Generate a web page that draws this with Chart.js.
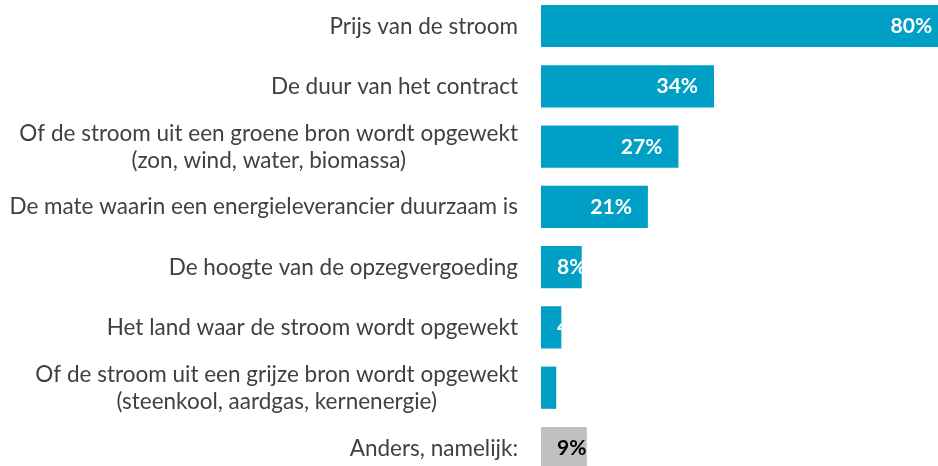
<!DOCTYPE html>
<html>
<head>
<meta charset="utf-8">
<script src="https://cdn.jsdelivr.net/npm/chart.js@4/dist/chart.umd.min.js"></script>
<style>
  html, body { margin: 0; padding: 0; background: #fff; }
  #wrap { width: 938px; height: 466px; position: relative; }
</style>
</head>
<body>
<div id="wrap"><canvas id="chart"></canvas></div>
<script>
// Categories (multi-line where the original wraps)
const categories = [
    ['Prijs van de stroom'],
    ['De duur van het contract'],
    ['Of de stroom uit een groene bron wordt opgewekt', '(zon, wind, water, biomassa)'],
    ['De mate waarin een energieleverancier duurzaam is'],
    ['De hoogte van de opzegvergoeding'],
    ['Het land waar de stroom wordt opgewekt'],
    ['Of de stroom uit een grijze bron wordt opgewekt', '(steenkool, aardgas, kernenergie)'],
    ['Anders, namelijk:']
];
// Share of respondents (%)
const percentages = [80, 34, 27, 21, 8, 4, 3, 9];

const BLUE = '#00a0c6';
const GREY = '#c0c0c0';
const LABEL_FONT = '22.5px Lato, "Open Sans", sans-serif';
const VALUE_FONT = 'bold 21px Lato, "Open Sans", sans-serif';
const LABEL_RIGHT = 518;
const LINE_HEIGHT = 27;

const isOther = i => i === categories.length - 1;

// Draw the category text left of the bars (lines centred on each other, right aligned block)
const categoryLabels = {
    id: 'categoryLabels',
    afterDraw(chart) {
        const ctx = chart.ctx;
        const yScale = chart.scales.y;
        ctx.save();
        ctx.font = LABEL_FONT;
        ctx.fillStyle = '#404040';
        ctx.textAlign = 'center';
        ctx.textBaseline = 'alphabetic';
        categories.forEach((lines, i) => {
            const y = yScale.getPixelForValue(i);
            const widest = Math.max(...lines.map(l => ctx.measureText(l).width));
            const cx = LABEL_RIGHT - widest / 2;
            lines.forEach((line, j) => {
                const ly = y + (j - (lines.length - 1) / 2) * LINE_HEIGHT + 7.5;
                ctx.fillText(line, cx, ly);
            });
        });
        ctx.restore();
    }
};

// Value labels inside the bar end, clipped to the bar itself
const valueLabels = {
    id: 'valueLabels',
    afterDatasetsDraw(chart) {
        const ctx = chart.ctx;
        const meta = chart.getDatasetMeta(0);
        meta.data.forEach((bar, i) => {
            const text = percentages[i] + '%';
            const top = bar.y - bar.height / 2;
            ctx.save();
            ctx.beginPath();
            ctx.rect(bar.base, top, bar.x - bar.base, bar.height);
            ctx.clip();
            ctx.font = VALUE_FONT;
            ctx.fillStyle = isOther(i) ? '#000000' : '#ffffff';
            ctx.textAlign = 'right';
            ctx.textBaseline = 'alphabetic';
            const w = ctx.measureText(text).width;
            const right = Math.max(bar.x - 16, bar.base + 16 + w);
            ctx.fillText(text, right, bar.y + 7);
            ctx.restore();
        });
    }
};

new Chart(document.getElementById('chart'), {
    type: 'bar',
    data: {
        labels: categories,
        datasets: [{
            data: percentages,
            backgroundColor: percentages.map((v, i) => isOther(i) ? GREY : BLUE),
            borderWidth: 0,
            categoryPercentage: 1,
            barPercentage: 0.7,
            clip: false
        }]
    },
    options: {
        indexAxis: 'y',
        responsive: true,
        maintainAspectRatio: false,
        animation: false,
        layout: { padding: { top: 26, bottom: 18, left: 0, right: 0 } },
        plugins: {
            legend: { display: false },
            tooltip: { enabled: false }
        },
        scales: {
            x: {
                display: false,
                min: 0,
                max: 78
            },
            y: {
                offset: false,
                grid: { display: false },
                border: { display: false },
                ticks: { display: false },
                afterFit(scale) { scale.width = 541; }
            }
        }
    },
    plugins: [categoryLabels, valueLabels]
});
</script>
</body>
</html>
